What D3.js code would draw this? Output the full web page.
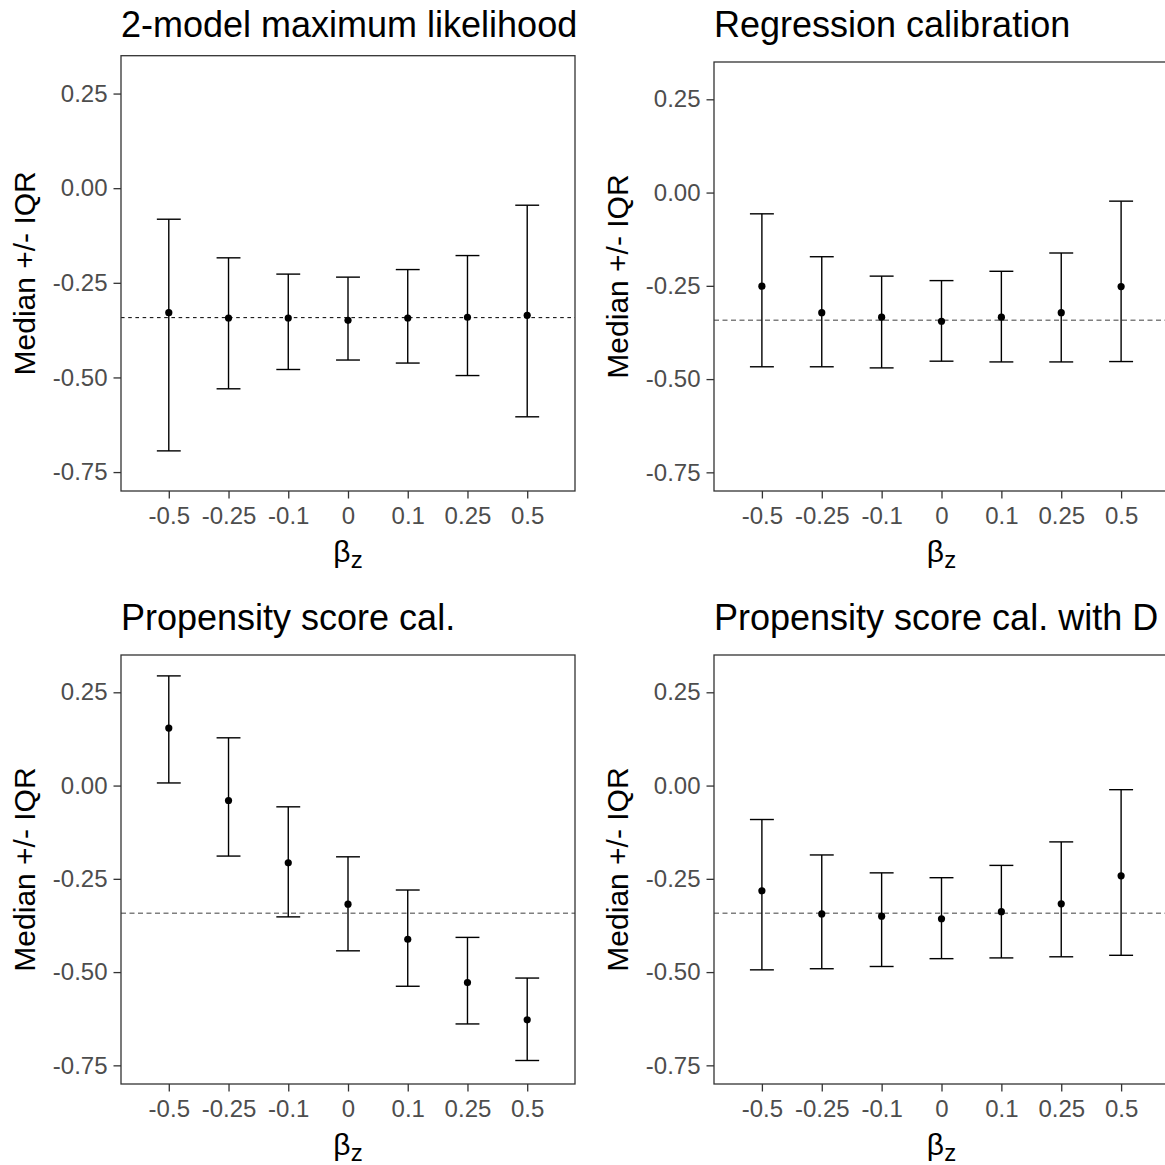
<!DOCTYPE html>
<html>
<head>
<meta charset="utf-8" />
<title>Median +/- IQR by beta_z</title>
<script src="https://d3js.org/d3.v7.min.js"></script>
<style>
  body { margin: 0px; background-color: white; }
  svg { font-family: "Liberation Sans", Arial, sans-serif; }
  .tick text { fill: #4d4d4d; }
  .tick line { stroke: #333333; stroke-width: 1.3; }
</style>
</head>
<body>
<svg id="chart"></svg>
<script>
// categories on the x axis
var betaZ = ["-0.5", "-0.25", "-0.1", "0", "0.1", "0.25", "0.5"];
var yTicks = [0.25, 0, -0.25, -0.5, -0.75];
var titles = ["2-model maximum likelihood", "Regression calibration",
              "Propensity score cal.", "Propensity score cal. with D"];
var trueValue = -0.342;

// 2-model maximum likelihood
var mlMedian = [-0.329, -0.343, -0.343, -0.349, -0.343, -0.341, -0.336];
var mlLower  = [-0.694, -0.530, -0.479, -0.454, -0.462, -0.495, -0.604];
var mlUpper  = [-0.082, -0.184, -0.227, -0.235, -0.215, -0.178, -0.045];

// regression calibration
var rcMedian = [-0.251, -0.322, -0.334, -0.345, -0.334, -0.322, -0.252];
var rcLower  = [-0.467, -0.467, -0.470, -0.452, -0.454, -0.454, -0.453];
var rcUpper  = [-0.057, -0.172, -0.224, -0.236, -0.211, -0.162, -0.023];

// propensity score calibration
var psMedian = [0.154, -0.040, -0.207, -0.318, -0.412, -0.528, -0.628];
var psLower  = [0.007, -0.189, -0.352, -0.443, -0.538, -0.639, -0.737];
var psUpper  = [0.294, 0.128, -0.057, -0.191, -0.280, -0.407, -0.516];

// propensity score calibration with D
var pdMedian = [-0.282, -0.344, -0.350, -0.357, -0.338, -0.317, -0.242];
var pdLower  = [-0.494, -0.491, -0.485, -0.464, -0.462, -0.459, -0.455];
var pdUpper  = [-0.091, -0.186, -0.234, -0.247, -0.214, -0.151, -0.011];

var width = 1165, height = 1165;
var svg = d3.select("#chart").attr("width", width).attr("height", height);

// panel boxes (left, top, right, bottom)
var boxes = [
  {l: 121, t: 55.7, r: 575, b: 491},
  {l: 714, t: 62,   r: 1169, b: 491},
  {l: 121, t: 655,  r: 575, b: 1084},
  {l: 714, t: 655,  r: 1169, b: 1084}
];
var series = [
  [mlMedian, mlLower, mlUpper],
  [rcMedian, rcLower, rcUpper],
  [psMedian, psLower, psUpper],
  [pdMedian, pdLower, pdUpper]
];
var titleBase = [37, 37, 630, 630];
var refStyle = [
  {color: "black",   w: 1,   dash: "3.6,3.6"},
  {color: "#7f7f7f", w: 1.5, dash: "5,3.5"},
  {color: "#7f7f7f", w: 1.5, dash: "5,3.5"},
  {color: "#7f7f7f", w: 1.5, dash: "5,3.5"}
];

boxes.forEach(function(bx, p) {
  var x = d3.scalePoint().domain(betaZ).range([bx.l, bx.r]).padding(0.8);
  var y = d3.scaleLinear().domain([-0.8, 0.35]).range([bx.b, bx.t]);
  var step = x.step();
  var g = svg.append("g");

  var rows = betaZ.map(function(k, i) {
    return {k: k, med: series[p][0][i], lo: series[p][1][i], hi: series[p][2][i]};
  });

  // reference line
  g.append("line")
    .attr("x1", bx.l).attr("x2", bx.r)
    .attr("y1", y(trueValue)).attr("y2", y(trueValue))
    .attr("stroke", refStyle[p].color)
    .attr("stroke-width", refStyle[p].w)
    .attr("stroke-dasharray", refStyle[p].dash);

  // error bars
  var eb = g.selectAll(".eb").data(rows).enter().append("g").attr("class", "eb");
  eb.append("line")
    .attr("x1", function(d) { return x(d.k); })
    .attr("x2", function(d) { return x(d.k); })
    .attr("y1", function(d) { return y(d.lo); })
    .attr("y2", function(d) { return y(d.hi); })
    .attr("stroke", "black").attr("stroke-width", 1.4);
  ["lo", "hi"].forEach(function(key) {
    eb.append("line")
      .attr("x1", function(d) { return x(d.k) - step * 0.2; })
      .attr("x2", function(d) { return x(d.k) + step * 0.2; })
      .attr("y1", function(d) { return y(d[key]); })
      .attr("y2", function(d) { return y(d[key]); })
      .attr("stroke", "black").attr("stroke-width", 1.4);
  });
  eb.append("circle")
    .attr("cx", function(d) { return x(d.k); })
    .attr("cy", function(d) { return y(d.med); })
    .attr("r", 3.6)
    .attr("fill", "black");

  // panel border
  g.append("rect")
    .attr("x", bx.l).attr("y", bx.t)
    .attr("width", bx.r - bx.l).attr("height", bx.b - bx.t)
    .attr("fill", "none").attr("stroke", "#333333").attr("stroke-width", 1.3);

  // axes
  var yAxis = d3.axisLeft(y).tickValues(yTicks)
    .tickFormat(function(d) { return d.toFixed(2); })
    .tickSize(7.5).tickPadding(6);
  var ya = g.append("g").attr("transform", "translate(" + bx.l + ",0)").call(yAxis);
  ya.select(".domain").remove();
  ya.attr("font-size", 24).attr("font-family", null);

  var xAxis = d3.axisBottom(x).tickSize(7.5).tickPadding(8);
  var xa = g.append("g").attr("transform", "translate(0," + bx.b + ")").call(xAxis);
  xa.select(".domain").remove();
  xa.attr("font-size", 24).attr("font-family", null);

  // titles
  g.append("text")
    .attr("x", bx.l).attr("y", titleBase[p])
    .attr("font-size", 36).attr("fill", "black")
    .text(titles[p]);

  g.append("text")
    .attr("transform", "translate(" + (bx.l - 86) + "," + ((bx.t + bx.b) / 2) + ") rotate(-90)")
    .attr("text-anchor", "middle")
    .attr("font-size", 30).attr("fill", "black")
    .text("Median +/- IQR");

  var xt = g.append("text")
    .attr("x", (bx.l + Math.min(bx.r, 1169)) / 2).attr("y", bx.b + 71)
    .attr("text-anchor", "middle")
    .attr("font-size", 30).attr("fill", "black");
  xt.append("tspan").text("β");
  xt.append("tspan").attr("font-size", 24).attr("dy", 6).text("z");
});
</script>
</body>
</html>
